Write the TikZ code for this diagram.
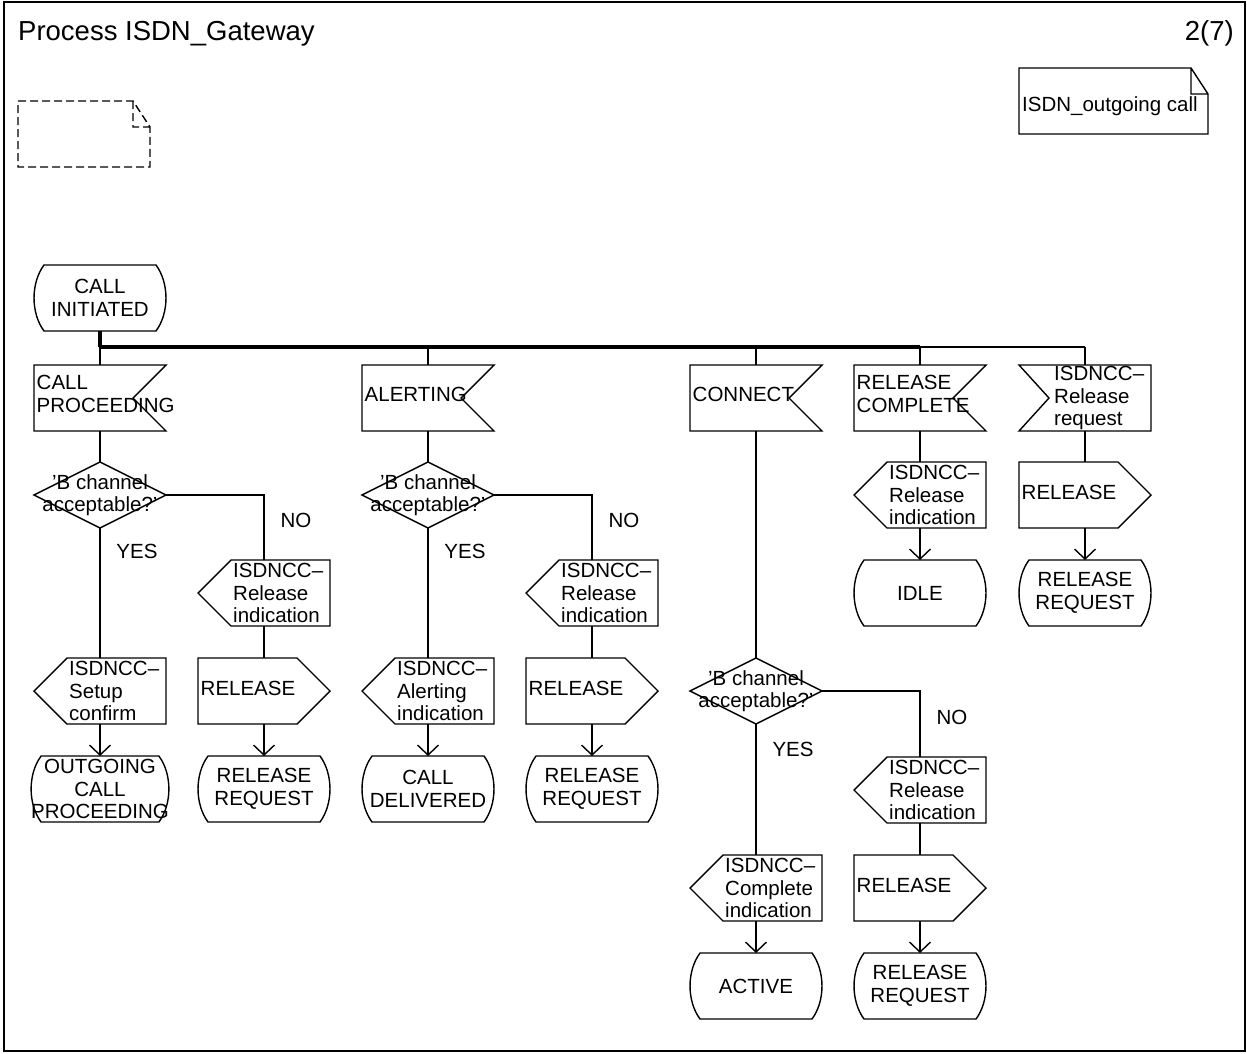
\documentclass[tikz,border=0pt]{standalone}
\usepackage{fontspec}
\setmainfont{Liberation Sans}
\usetikzlibrary{arrows.meta}
\newcommand\sdlfont{\fontsize{20.5}{22.5}\selectfont}
% input signal, notch on the right
\newcommand\InR[3]{%
 \node[frame] (#1) at (#2) {};
 \node[txt, anchor=west, yshift=4pt] (#1t) at ([xshift=2.5pt]#1.west) {#3};
 \draw[shp] (#1.north west) -- (#1.north east) -- ([xshift=-33pt]#1.east) -- (#1.south east) -- (#1.south west) -- cycle;}
% input signal, notch on the left
\newcommand\InL[3]{%
 \node[frame] (#1) at (#2) {};
 \node[txt, anchor=west] (#1t) at ([xshift=35pt]#1.west) {#3};
 \draw[shp] (#1.north west) -- (#1.north east) -- (#1.south east) -- (#1.south west) -- ([xshift=30pt]#1.west) -- cycle;}
% output signal, point on the left
\newcommand\OutL[3]{%
 \node[frame] (#1) at (#2) {};
 \node[txt, anchor=west] (#1t) at ([xshift=35pt]#1.west) {#3};
 \draw[shp] (#1.west) -- ([xshift=33pt]#1.north west) -- (#1.north east) -- (#1.south east) -- ([xshift=33pt]#1.south west) -- cycle;}
% output signal, point on the right
\newcommand\OutR[3]{%
 \node[frame] (#1) at (#2) {};
 \node[txt, anchor=west, yshift=3pt] (#1t) at ([xshift=2.5pt]#1.west) {#3};
 \draw[shp] (#1.north west) -- ([xshift=-33pt]#1.north east) -- (#1.east) -- ([xshift=-33pt]#1.south east) -- (#1.south west) -- cycle;}
% state
\newcommand\State[3]{%
 \node[frame] (#1) at (#2) {#3};
 \draw[shp] ([xshift=10pt]#1.north west) -- ([xshift=-10pt]#1.north east)
   .. controls +(13.3,18) and +(13.3,-18) .. ([xshift=-10pt]#1.south east)
   -- ([xshift=10pt]#1.south west)
   .. controls +(-13.3,-18) and +(-13.3,18) .. ([xshift=10pt]#1.north west) -- cycle;}
% decision
\newcommand\Dec[3]{%
 \node[frame] (#1) at (#2) {#3};
 \draw[shp] (#1.north) -- (#1.east) -- (#1.south) -- (#1.west) -- cycle;}
\begin{document}
\begin{tikzpicture}[x=1pt,y=-1pt,
  frame/.style={minimum width=132pt, minimum height=66pt, inner sep=0pt, outer sep=0pt, font=\sdlfont, align=center},
  txt/.style={inner sep=0pt, font=\sdlfont, align=left},
  shp/.style={draw, line width=1.4pt, line join=miter},
  ln/.style={line width=1.4pt},
  arr/.style={line width=1.4pt, -{Straight Barb[length=10pt,width=21pt]}},
  bus/.style={line width=3.2pt},
  lab/.style={inner sep=0pt, font=\sdlfont}]
\useasboundingbox (0,0) rectangle (1247,1053);
\draw[line width=1.7pt] (4,2) rectangle (1245,1051);
\node[inner sep=0pt, anchor=base west, font=\fontsize{27.5}{30}\selectfont] (title) at (18,40) {Process ISDN\_Gateway};
\node[inner sep=0pt, anchor=base east, font=\fontsize{27.5}{30}\selectfont] (page) at (1234,40) {2(7)};
% dashed note
\draw[line width=1.4pt, dash pattern=on 8pt off 4pt] (18,101) -- (133,101) -- (150,127) -- (150,167) -- (18,167) -- cycle
  (133,101) -- (133,127) -- (150,127);
% text note
\draw[shp] (1019,68) -- (1191,68) -- (1208,94) -- (1208,134) -- (1019,134) -- cycle
  (1191,68) -- (1191,94) -- (1208,94);
\node[txt, anchor=base west] (note) at (1022,111) {ISDN\_outgoing call};

% start state
\State{ci}{100,298}{CALL\\INITIATED}
\coordinate (b0) at (100,347);
\coordinate (b1) at (428,347);
\coordinate (b2) at (756,347);
\coordinate (b3) at (920,347);
\coordinate (b4) at (1085,347);

% inputs
\InR{cp}{100,398}{CALL\\PROCEEDING}
\InR{al}{428,398}{ALERTING}
\InR{con}{756,398}{CONNECT}
\InR{rc}{920,398}{RELEASE\\COMPLETE}
\InL{rrq}{1085,398}{ISDNCC–\\Release\\request}

% column 1
\Dec{d1}{100,495}{'B channel\\acceptable?'}
\OutL{sc}{100,691}{ISDNCC–\\Setup\\confirm}
\State{ocp}{100,789}{OUTGOING\\CALL\\PROCEEDING}
\OutL{ri1}{264,593}{ISDNCC–\\Release\\indication}
\OutR{rel1}{264,691}{RELEASE}
\State{rr1}{264,789}{RELEASE\\REQUEST}
% column 2
\Dec{d2}{428,495}{'B channel\\acceptable?'}
\OutL{ai}{428,691}{ISDNCC–\\Alerting\\indication}
\State{cd}{428,789}{CALL\\DELIVERED}
\OutL{ri2}{592,593}{ISDNCC–\\Release\\indication}
\OutR{rel2}{592,691}{RELEASE}
\State{rr2}{592,789}{RELEASE\\REQUEST}
% column 3
\Dec{d3}{756,691}{'B channel\\acceptable?'}
\OutL{cid}{756,888}{ISDNCC–\\Complete\\indication}
\State{act}{756,986}{ACTIVE}
\OutL{ri3}{920,790}{ISDNCC–\\Release\\indication}
\OutR{rel3}{920,888}{RELEASE}
\State{rr3}{920,986}{RELEASE\\REQUEST}
% column 4
\OutL{ri4}{920,495}{ISDNCC–\\Release\\indication}
\State{idle}{920,593}{IDLE}
% column 5
\OutR{rel5}{1085,495}{RELEASE}
\State{rr5}{1085,593}{RELEASE\\REQUEST}

% labels
\node[lab] (yes1) at (137,551) {YES};
\node[lab] (no1) at (296,520) {NO};
\node[lab] (yes2) at (465,551) {YES};
\node[lab] (no2) at (624,520) {NO};
\node[lab] (yes3) at (793,749) {YES};
\node[lab] (no3) at (952,717) {NO};

% bus
\draw[bus] (ci) -- (b0);
\draw[bus] (b0) -- (b3);
\draw[ln] (b3) -- (b4);
\draw[ln] (b0) -- (cp);
\draw[ln] (b1) -- (al);
\draw[ln] (b2) -- (con);
\draw[ln] (b3) -- (rc);
\draw[ln] (b4) -- (rrq);

% column 1 flow
\draw[ln] (cp) -- (d1);
\draw[ln] (d1) -- (sc);
\draw[arr] (sc) -- (ocp);
\draw[ln] (d1.east) -| (ri1.north);
\draw[ln] (ri1) -- (rel1);
\draw[arr] (rel1) -- (rr1);
% column 2 flow
\draw[ln] (al) -- (d2);
\draw[ln] (d2) -- (ai);
\draw[arr] (ai) -- (cd);
\draw[ln] (d2.east) -| (ri2.north);
\draw[ln] (ri2) -- (rel2);
\draw[arr] (rel2) -- (rr2);
% column 3 flow
\draw[ln] (con) -- (d3);
\draw[ln] (d3) -- (cid);
\draw[arr] (cid) -- (act);
\draw[ln] (d3.east) -| (ri3.north);
\draw[ln] (ri3) -- (rel3);
\draw[arr] (rel3) -- (rr3);
% column 4 flow
\draw[ln] (rc) -- (ri4);
\draw[arr] (ri4) -- (idle);
% column 5 flow
\draw[ln] (rrq) -- (rel5);
\draw[arr] (rel5) -- (rr5);
\end{tikzpicture}
\end{document}
